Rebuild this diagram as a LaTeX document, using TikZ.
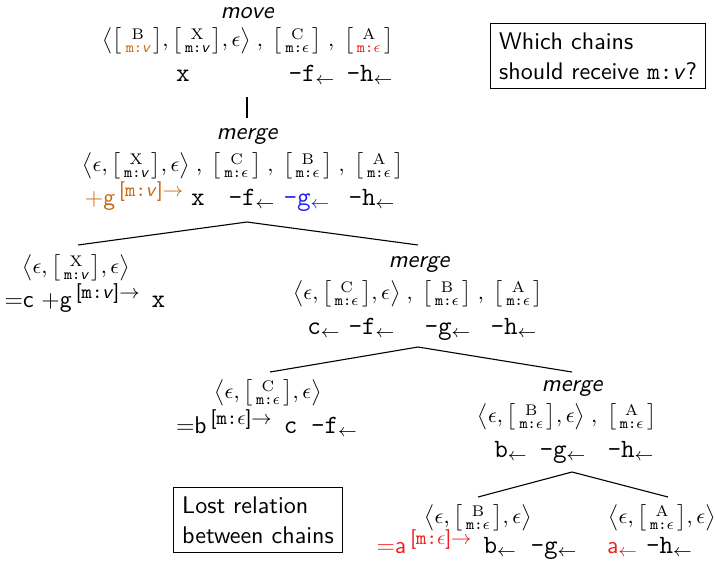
\documentclass[tikz,border=0pt,11pt]{standalone}
\usepackage{amsmath,amssymb}
\usepackage{tikz}
\usetikzlibrary{positioning}
\renewcommand{\familydefault}{\sfdefault}
\definecolor{orgc}{HTML}{C8690E}
\definecolor{redc}{HTML}{F01E1E}
\definecolor{bluec}{HTML}{2020F0}
\tikzset{
  x=0.455pt,y=-0.455pt,
  lbl/.style={font=\itshape,inner sep=0pt},
  expr/.style={inner sep=0pt,font=\small},
  tok/.style={font=\fontsize{12}{14}\selectfont\ttfamily,inner sep=1pt,anchor=base},
  stok/.style={tok,font=\fontsize{11}{13}\selectfont\sffamily},
  edge/.style={line width=0.5pt},
  notebox/.style={draw,line width=0.5pt,align=left,inner sep=4pt},
}
\newcommand{\fstack}[2]{\bigl[\mkern3mu\substack{\mathrm{#1}\\ #2}\mkern3mu\bigr]}
\newcommand{\mv}{\text{\ttfamily m:}\text{\sffamily\itshape v}}
\newcommand{\me}{\text{\ttfamily m:}\epsilon}
\newcommand{\lt}{$_{\leftarrow}$}
\newcommand{\tx}[1]{{\fontsize{12}{14}\selectfont\ttfamily #1}}
\newcommand{\featv}{\,\raisebox{3.8pt}{\footnotesize[\texttt{m:}\textit{v}]$\rightarrow$}}
\newcommand{\feate}{\,\raisebox{3.8pt}{\footnotesize[\texttt{m:}$\epsilon$]$\rightarrow$}}
\newcommand{\sep}{\;,\;}
\begin{document}
\begin{tikzpicture}
  \useasboundingbox (0,0) rectangle (716,560);
  % move
  \node[lbl] (mvlbl) at (247,13) {move};
  \node[expr] (mvrow) at (248,41) {$\bigl\langle\fstack{B}{\color{orgc}\mv},\fstack{X}{\mv},\epsilon\bigr\rangle\sep\fstack{C}{\me}\sep\fstack{A}{\color{redc}\me}$};
  \node[tok] (mvx) at (183,81) {x};
  \node[tok] (mvf) at (312,81) {-f\lt};
  \node[tok] (mvh) at (370,81) {-h\lt};
  % merge 1
  \node[lbl] (mgA) at (247,136) {merge};
  \node[expr] (mgArow) at (243,166) {$\bigl\langle\epsilon,\fstack{X}{\mv},\epsilon\bigr\rangle\sep\fstack{C}{\me}\sep\fstack{B}{\me}\sep\fstack{A}{\me}$};
  \node[stok,text=orgc] (mgAg) at (134,205) {+g\featv};
  \node[tok] (mgAx) at (198,205) {x};
  \node[tok] (mgAf) at (252,205) {-f\lt};
  \node[tok,text=bluec] (mgAgg) at (307,205) {-g\lt};
  \node[tok] (mgAh) at (372,205) {-h\lt};
  \coordinate (mvb) at (247,97);
  \coordinate (mgAt) at (247,118);
  \draw[edge] (mvb) -- (mgAt);
  % leaf X
  \node[expr] (lfX) at (76,268) {$\bigl\langle\epsilon,\fstack{X}{\mv},\epsilon\bigr\rangle$};
  \node[stok] (lfXrow) at (85,307) {=c +g\featv\enspace\tx{x}};
  % merge 2
  \node[lbl] (mgB) at (419,264) {merge};
  \node[expr] (mgBrow) at (418,294) {$\bigl\langle\epsilon,\fstack{C}{\me},\epsilon\bigr\rangle\sep\fstack{B}{\me}\sep\fstack{A}{\me}$};
  \node[tok] (mgBc) at (324,334) {c\lt};
  \node[tok] (mgBf) at (372,334) {-f\lt};
  \node[tok] (mgBg) at (448,334) {-g\lt};
  \node[tok] (mgBh) at (514,334) {-h\lt};
  \coordinate (mgAb) at (247,222);
  \coordinate (lfXt) at (78,245);
  \coordinate (mgBt) at (418,245);
  \draw[edge] (lfXt) -- (mgAb) -- (mgBt);
  % leaf C
  \node[expr] (lfC) at (268,393) {$\bigl\langle\epsilon,\fstack{C}{\me},\epsilon\bigr\rangle$};
  \node[stok] (lfCrow) at (267,433) {=b\feate\enspace\tx{c -f\lt}};
  % merge 3
  \node[lbl] (mgC) at (572,388) {merge};
  \node[expr] (mgCrow) at (567,417) {$\bigl\langle\epsilon,\fstack{B}{\me},\epsilon\bigr\rangle\sep\fstack{A}{\me}$};
  \node[tok] (mgCb) at (511,457) {b\lt};
  \node[tok] (mgCg) at (563,457) {-g\lt};
  \node[tok] (mgCh) at (631,457) {-h\lt};
  \coordinate (mgBb) at (418,347);
  \coordinate (lfCt) at (270,372);
  \coordinate (mgCt) at (572,372);
  \draw[edge] (lfCt) -- (mgBb) -- (mgCt);
  % leaves B and A
  \node[expr] (lfB) at (478,518) {$\bigl\langle\epsilon,\fstack{B}{\me},\epsilon\bigr\rangle$};
  \node[stok] (lfBrow) at (477,553) {\textcolor{redc}{=a\feate}\enspace\tx{b\lt{} -g\lt}};
  \node[expr] (lfA) at (662,518) {$\bigl\langle\epsilon,\fstack{A}{\me},\epsilon\bigr\rangle$};
  \node[stok] (lfArow) at (650,553) {\textcolor{redc}{a\lt}\ \tx{-h\lt}};
  \coordinate (mgCb2) at (572,472);
  \coordinate (lfBt) at (478,497);
  \coordinate (lfAt) at (668,497);
  \draw[edge] (lfBt) -- (mgCb2) -- (lfAt);
  % notes
  \node[notebox] (qnote) at (598,56) {Which chains\\should receive \texttt{m:}\textit{v}?};
  \node[notebox] (lnote) at (258,520) {Lost relation\\between chains};
\end{tikzpicture}
\end{document}
